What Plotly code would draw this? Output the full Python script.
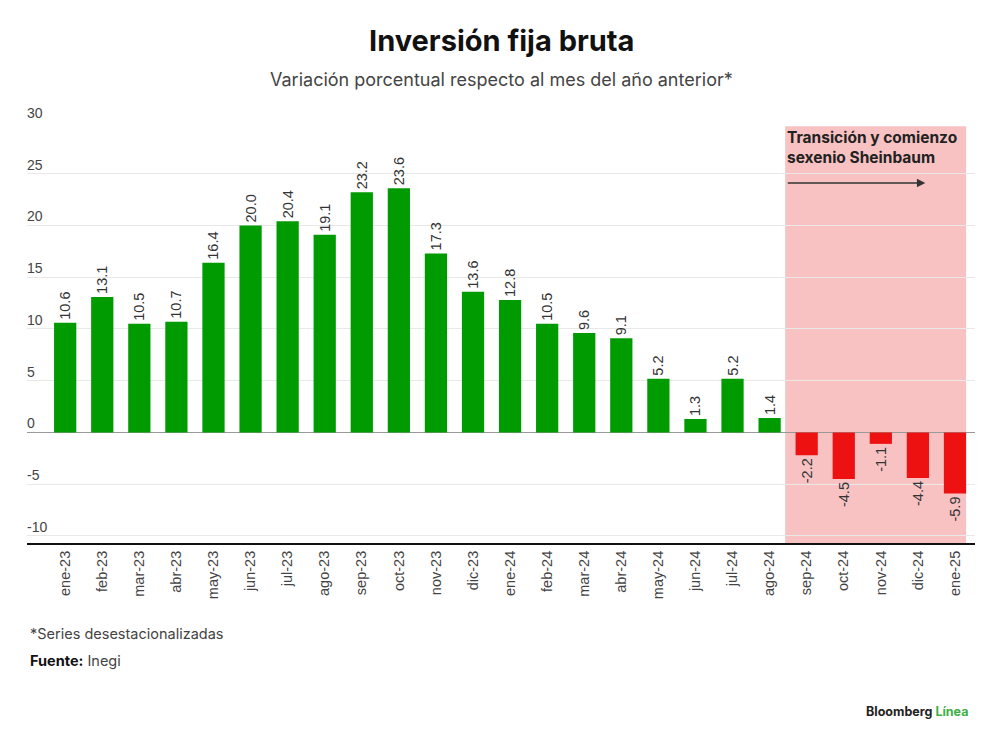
import plotly.graph_objects as go

# monthly fixed-investment yoy change (%)
months = ['ene-23', 'feb-23', 'mar-23', 'abr-23', 'may-23', 'jun-23', 'jul-23', 'ago-23',
          'sep-23', 'oct-23', 'nov-23', 'dic-23', 'ene-24', 'feb-24', 'mar-24', 'abr-24',
          'may-24', 'jun-24', 'jul-24', 'ago-24', 'sep-24', 'oct-24', 'nov-24', 'dic-24', 'ene-25']
values = [10.6, 13.1, 10.5, 10.7, 16.4, 20.0, 20.4, 19.1, 23.2, 23.6, 17.3, 13.6, 12.8,
          10.5, 9.6, 9.1, 5.2, 1.3, 5.2, 1.4, -2.2, -4.5, -1.1, -4.4, -5.9]
y_ticks = [-10, -5, 0, 5, 10, 15, 20, 25, 30]

colors = ['#009b00' if v >= 0 else '#ee1111' for v in values]
idx = list(range(len(months)))

# page has an 8px body margin, so work in screen pixels and shift back
OFF = 8
W, H = 1000, 742
M_L, M_R, M_T, M_B = 27 - OFF, 25 + OFF, 122 - OFF, 199 + OFF
plot_h = H - M_T - M_B
plot_w = W - M_L - M_R

def px_y(py):
    # screen pixel row -> paper y
    return (H - M_B - (py - OFF)) / plot_h

def px_x(px):
    return (px - OFF - M_L) / plot_w

fig = go.Figure()
fig.add_trace(go.Bar(
    x=idx, y=values,
    marker_color=colors, marker_line_width=0,
    text=[f'{v:.1f}' for v in values],
    textposition='outside', textangle=-90, constraintext='none',
    textfont=dict(size=14.5, color='#333333', family='Liberation Sans'),
    cliponaxis=False,
))

# shaded transition period
fig.add_shape(type='rect', xref='x', yref='y', x0=19.42, x1=24.3, y0=-10.68, y1=29.6,
              fillcolor='#f8c2c3', line_width=0, layer='below')

fig.add_annotation(x=23.2, y=24.1, ax=19.45, ay=24.1, xref='x', yref='y', axref='x', ayref='y',
                   text='', showarrow=True, arrowhead=2, arrowsize=1.2, arrowwidth=1.4,
                   arrowcolor='#333333')
fig.add_annotation(x=19.42, y=29.6, xref='x', yref='y', xanchor='left', yanchor='top',
                   text='<b>Transición y comienzo<br>sexenio Sheinbaum</b>', showarrow=False,
                   align='left', font=dict(size=15.5, color='#222222', family='Inter'))

# y tick labels sit above the gridlines, left aligned
for t in y_ticks:
    fig.add_annotation(x=0, y=t, xref='paper', yref='y', xanchor='left', yanchor='bottom',
                       showarrow=False, text=str(t), yshift=-1, xshift=-2,
                       font=dict(size=14, color='#444444', family='Liberation Sans'))

# titles and notes
fig.add_annotation(x=0.5, y=px_y(40), xref='paper', yref='paper', yanchor='middle', showarrow=False,
                   text='<b>Inversión fija bruta</b>', font=dict(size=29, color='#111111', family='Inter'))
fig.add_annotation(x=0.5, y=px_y(79), xref='paper', yref='paper', yanchor='middle', showarrow=False,
                   text='Variación porcentual respecto al mes del año anterior*',
                   font=dict(size=18, color='#444444', family='Inter'))

fig.add_annotation(x=px_x(28), y=px_y(633), xref='paper', yref='paper',
                   xanchor='left', yanchor='middle', showarrow=False,
                   text='*Series desestacionalizadas', font=dict(size=14.5, color='#444444'))
fig.add_annotation(x=px_x(28), y=px_y(661), xref='paper', yref='paper',
                   xanchor='left', yanchor='middle', showarrow=False,
                   text='<b style="color:#111111">Fuente:</b> Inegi', font=dict(size=14.5, color='#444444'))
fig.add_annotation(x=px_x(970), y=px_y(711), xref='paper', yref='paper',
                   xanchor='right', yanchor='middle', showarrow=False,
                   text='<b><span style="color:#222222">Bloomberg</span> <span style="color:#3cb043">Línea</span></b>',
                   font=dict(size=12.5))

fig.update_layout(
    width=W, height=H,
    margin=dict(l=M_L, r=M_R, t=M_T, b=M_B),
    paper_bgcolor='white', plot_bgcolor='white',
    showlegend=False, bargap=0.4,
    font=dict(family='Inter', color='#444444'),
    xaxis=dict(
        tickmode='array', tickvals=idx, ticktext=months, tickangle=-90,
        range=[-1.03, 24.54], showgrid=False, automargin=False,
        showline=True, linecolor='#111111', linewidth=2,
        tickfont=dict(size=14.5, color='#444444', family='Liberation Sans'), ticks='',
    ),
    yaxis=dict(
        tickmode='array', tickvals=y_ticks, range=[-10.68, 30], automargin=False,
        showticklabels=False, showgrid=True, gridcolor='#e8e8e8', gridwidth=1,
        zeroline=True, zerolinecolor='#999999', zerolinewidth=1,
    ),
)

fig.write_html('out.html')
